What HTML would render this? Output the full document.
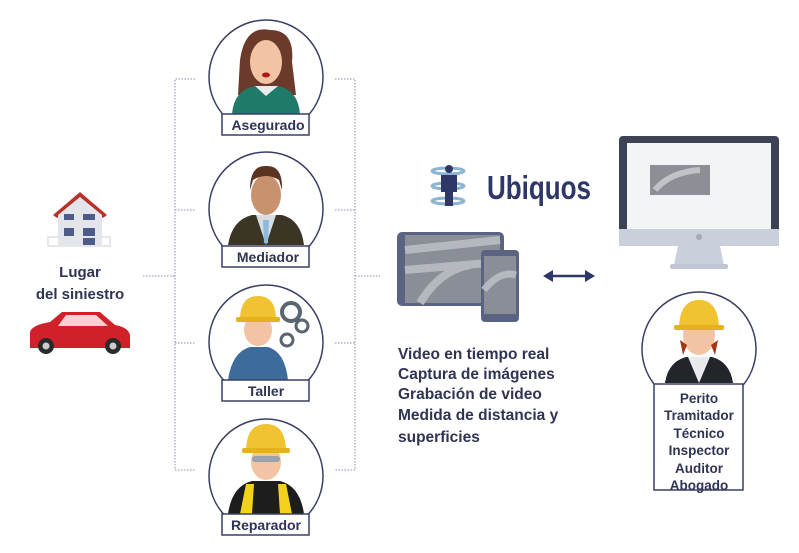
<!DOCTYPE html>
<html><head><meta charset="utf-8"><style>
html,body{margin:0;padding:0;background:#fff;}
svg{display:block;}
text{font-family:"Liberation Sans",sans-serif;font-weight:bold;fill:#2f3354;}
</style></head><body>
<svg width="799" height="553" viewBox="0 0 799 553" xmlns="http://www.w3.org/2000/svg">
<!-- dotted connectors -->
<g stroke="#8a8fa8" stroke-width="1" stroke-dasharray="1.5,1.5" fill="none">
<path d="M195 79H175V470H195M175 210H195M175 343H195"/>
<path d="M335 79H355V470H335M335 210H355M335 343H355"/>
<path d="M143 276H175M355 276H380"/>
</g>
<!-- circles -->
<g fill="#fff" stroke="#3a3f66" stroke-width="1.5">
<circle cx="266" cy="77" r="57"/>
<circle cx="266" cy="209" r="57"/>
<circle cx="266" cy="342" r="57"/>
<circle cx="266" cy="476" r="57"/>
<circle cx="699" cy="349" r="57"/>
</g>
<!-- people (simplified) -->
<!-- Asegurado woman -->
<path d="M240 60 Q245 25 270 30 Q295 30 292 62 L296 95 L238 95 Z" fill="#6b3a2a"/>
<ellipse cx="266" cy="62" rx="16" ry="22" fill="#f3c4a4"/>
<path d="M250 45 Q265 28 285 48 L285 38 Q270 25 250 38Z" fill="#6b3a2a"/>
<ellipse cx="266" cy="75" rx="4" ry="2.5" fill="#b01818"/>
<path d="M232 114 Q234 90 255 86 L278 86 Q298 90 300 114Z" fill="#1f7a6a"/>
<path d="M255 86 L266 96 L278 86Z" fill="#e8eef0"/>
<!-- Mediador -->
<ellipse cx="266" cy="195" rx="15" ry="20" fill="#c9926e"/>
<path d="M250 190 Q250 165 266 166 Q283 165 282 190 L279 180 Q266 172 253 180Z" fill="#5a3420"/>
<path d="M228 245 Q232 220 252 215 L282 215 Q301 220 304 245Z" fill="#3b3526"/>
<path d="M256 215 L266 245 L276 215Z" fill="#d8dde3"/>
<path d="M263 220 L269 220 L268 243 L264 243Z" fill="#8fb8e0"/>
<!-- Taller -->
<ellipse cx="258" cy="330" rx="14" ry="16" fill="#f3c4a4"/>
<path d="M240 320 Q240 296 258 296 Q276 296 276 320Z" fill="#f1c232"/>
<rect x="236" y="317" width="44" height="5" rx="2" fill="#e4b21c"/>
<path d="M228 380 Q232 352 250 347 L268 347 Q285 352 288 380Z" fill="#3d6c9a"/>
<circle cx="291" cy="312" r="9" fill="none" stroke="#5b6570" stroke-width="4"/>
<circle cx="302" cy="326" r="6" fill="none" stroke="#5b6570" stroke-width="3"/>
<circle cx="287" cy="340" r="6" fill="none" stroke="#5b6570" stroke-width="3"/>
<!-- Reparador -->
<ellipse cx="266" cy="462" rx="15" ry="18" fill="#f3c4a4"/>
<path d="M246 452 Q246 424 266 424 Q286 424 286 452Z" fill="#f1c232"/>
<rect x="242" y="448" width="48" height="5" rx="2" fill="#e4b21c"/>
<rect x="252" y="456" width="28" height="6" rx="3" fill="#9aa3ad"/>
<path d="M228 514 Q232 486 252 481 L280 481 Q300 486 304 514Z" fill="#1d1d1d"/>
<path d="M240 514 L246 484 L254 484 L252 514Z M292 514 L286 484 L278 484 L280 514Z" fill="#f3d21e"/>
<!-- Perito -->
<ellipse cx="699" cy="335" rx="16" ry="20" fill="#f3c4a4"/>
<path d="M679 330 Q679 300 699 300 Q719 300 719 330Z" fill="#f1c232"/>
<rect x="674" y="325" width="50" height="5" rx="2" fill="#e4b21c"/>
<path d="M680 340 L683 355 L687 345Z M718 340 L715 355 L711 345Z" fill="#a3361a"/>
<path d="M665 383 Q668 362 686 357 L712 357 Q730 362 733 383Z" fill="#22252a"/>
<path d="M688 357 L699 383 L710 357Z" fill="#e8eaee"/>
<!-- label boxes -->
<g fill="#fff" stroke="#3a3f66" stroke-width="1.5">
<rect x="222" y="114" width="87" height="21"/>
<rect x="222" y="246" width="87" height="21"/>
<rect x="222" y="380" width="87" height="21"/>
<rect x="222" y="514" width="87" height="21"/>
<rect x="654" y="384" width="89" height="106"/>
</g>
<g font-size="14" text-anchor="middle">
<text x="268" y="130">Asegurado</text>
<text x="268" y="262">Mediador</text>
<text x="266" y="396">Taller</text>
<text x="266" y="530">Reparador</text>
</g>
<g font-size="13.5" text-anchor="middle">
<text x="699" y="403">Perito</text>
<text x="699" y="420">Tramitador</text>
<text x="699" y="438">Técnico</text>
<text x="699" y="455">Inspector</text>
<text x="699" y="473">Auditor</text>
<text x="699" y="490">Abogado</text>
</g>
<!-- house -->
<path d="M53 215 L80 192 L107 215 L103 218 L80 198 L57 218Z" fill="#b8312a"/>
<path d="M58 215 L80 197 L102 215 L102 246 L58 246Z" fill="#e3e5ea"/>
<rect x="64" y="214" width="10" height="6" fill="#4c5b8a"/>
<rect x="83" y="214" width="12" height="6" fill="#4c5b8a"/>
<rect x="64" y="228" width="10" height="8" fill="#4c5b8a"/>
<rect x="83" y="228" width="12" height="18" fill="#4c5b8a"/>
<rect x="48" y="237" width="62" height="9" fill="none" stroke="#e5e7ea" stroke-width="2"/>
<g font-size="15" text-anchor="middle">
<text x="80" y="277">Lugar</text>
<text x="80" y="299">del siniestro</text>
</g>
<!-- car -->
<path d="M30 345 L30 332 Q32 325 50 322 L62 312 L100 312 L115 325 Q128 327 130 335 L130 348 L30 348Z" fill="#d0202a"/>
<path d="M66 315 L96 315 L108 326 L58 326Z" fill="#ffffff" opacity="0.8"/>
<circle cx="46" cy="346" r="8" fill="#2a2a2a"/><circle cx="46" cy="346" r="3.5" fill="#ccc"/>
<circle cx="113" cy="346" r="8" fill="#2a2a2a"/><circle cx="113" cy="346" r="3.5" fill="#ccc"/>
<!-- Ubiquos logo -->
<g fill="none" stroke="#8ab4cf" stroke-width="3">
<ellipse cx="448" cy="171" rx="16" ry="3"/>
<ellipse cx="448" cy="186" rx="16" ry="3"/>
<ellipse cx="448" cy="201" rx="16" ry="3"/>
</g>
<circle cx="449" cy="169" r="4" fill="#2f3768"/>
<path d="M441 175 L457 175 L457 192 L453 192 L453 206 L445 206 L445 192 L441 192Z" fill="#2f3768"/>
<text x="487" y="199" font-size="33" style="fill:#2f3768" textLength="104" lengthAdjust="spacingAndGlyphs">Ubiquos</text>
<!-- tablet & phone -->
<rect x="397" y="232" width="107" height="74" rx="5" fill="#5a6482"/>
<rect x="405" y="235" width="95" height="68" fill="#8a8e96"/>
<path d="M405 250 L500 240 M405 270 L500 262 M420 303 Q440 270 470 265" stroke="#b5b8be" stroke-width="8" fill="none"/>
<rect x="481" y="250" width="38" height="72" rx="4" fill="#5a6482"/>
<rect x="484" y="256" width="32" height="58" fill="#8a8e96"/>
<path d="M484 290 Q500 270 516 275" stroke="#b5b8be" stroke-width="7" fill="none"/>
<!-- arrow -->
<path d="M550 276 H588" stroke="#2f3768" stroke-width="2.5"/>
<path d="M543 276 L553 270 L553 282Z M595 276 L585 270 L585 282Z" fill="#2f3768"/>
<!-- text list -->
<g font-size="15.5">
<text x="398" y="359">Video en tiempo real</text>
<text x="398" y="379">Captura de imágenes</text>
<text x="398" y="399">Grabación de video</text>
<text x="398" y="420">Medida de distancia y</text>
<text x="398" y="442">superficies</text>
</g>
<!-- monitor -->
<rect x="619" y="136" width="160" height="110" rx="4" fill="#3d4255"/>
<rect x="627" y="143" width="144" height="86" fill="#f3f4f6"/>
<rect x="650" y="165" width="60" height="30" fill="#8c8f95"/>
<path d="M655 190 Q670 172 700 170" stroke="#c0c2c6" stroke-width="6" fill="none"/>
<rect x="619" y="229" width="160" height="17" fill="#c9cfdb"/>
<circle cx="699" cy="237" r="3" fill="#a3abbb"/>
<path d="M678 246 L720 246 L724 265 L674 265Z" fill="#c9cfdb"/>
<rect x="670" y="264" width="58" height="5" rx="2" fill="#bfc6d3"/>
</svg>
</body></html>
